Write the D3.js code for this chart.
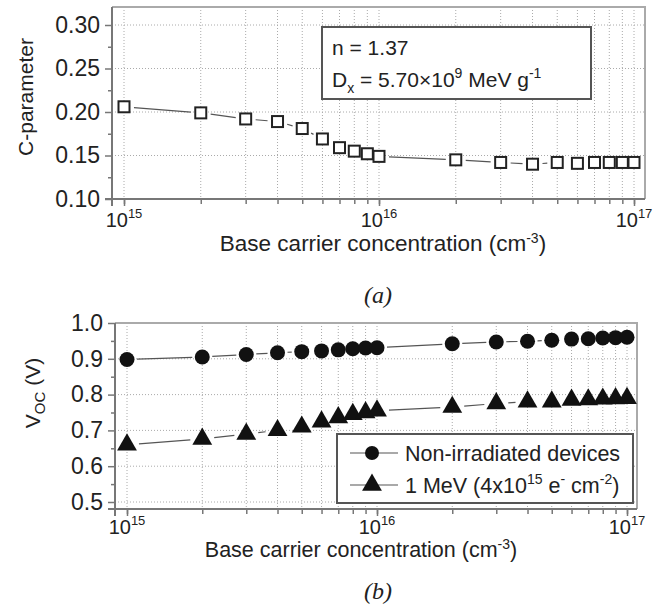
<!DOCTYPE html>
<html>
<head>
<meta charset="utf-8">
<script src="https://cdn.jsdelivr.net/npm/d3@7"></script>
<style>
  body { margin: 0; background: #fff; }
  text { font-family: "Liberation Sans", Arial, sans-serif; fill: #222; }
</style>
</head>
<body>
<svg width="665" height="614"></svg>
<script>
// carrier concentrations (cm^-3)
const conc = [1e15, 2e15, 3e15, 4e15, 5e15, 6e15, 7e15, 8e15, 9e15,
  1e16, 2e16, 3e16, 4e16, 5e16, 6e16, 7e16, 8e16, 9e16, 1e17];
// (a) C-parameter
const cParam = [0.206, 0.199, 0.192, 0.189, 0.181, 0.169, 0.159, 0.155, 0.152,
  0.149, 0.145, 0.142, 0.140, 0.142, 0.141, 0.142, 0.142, 0.142, 0.142];
// (b) Voc
const vocNonIrr = [0.898, 0.905, 0.912, 0.917, 0.920, 0.922, 0.925, 0.928, 0.930,
  0.931, 0.942, 0.947, 0.949, 0.952, 0.955, 0.956, 0.958, 0.959, 0.960];
const voc1MeV = [0.660, 0.676, 0.690, 0.700, 0.710, 0.724, 0.736, 0.745, 0.750,
  0.755, 0.765, 0.775, 0.780, 0.780, 0.785, 0.786, 0.788, 0.789, 0.790];
const cTicks = [0.10, 0.15, 0.20, 0.25, 0.30];
const vTicks = [0.5, 0.6, 0.7, 0.8, 0.9, 1.0];
const decades = [15, 16, 17];

const svg = d3.select('svg');
const minorX = d3.range(15, 17).flatMap(e => d3.range(1, 10).map(m => m * Math.pow(10, e))).concat([1e17]);

function panel(cfg) {
  const g = svg.append('g');
  const x = d3.scaleLog().domain([1e15, 1e17]).range(cfg.xr);
  const y = d3.scaleLinear().domain(cfg.yd).range(cfg.yr);
  const [L, R, T, B] = cfg.frame;

  // grid
  g.append('g').selectAll('line').data(minorX).join('line')
    .attr('x1', d => x(d)).attr('x2', d => x(d)).attr('y1', T).attr('y2', B)
    .attr('stroke', '#aaa').attr('stroke-width', 1).attr('stroke-dasharray', '1,2');
  g.append('g').selectAll('line').data(cfg.yTicks).join('line')
    .attr('x1', L).attr('x2', R).attr('y1', d => y(d)).attr('y2', d => y(d))
    .attr('stroke', '#aaa').attr('stroke-width', 1).attr('stroke-dasharray', '1,2');

  // top / right frame
  g.append('path').attr('d', `M${L},${T}H${R}V${B}`)
    .attr('fill', 'none').attr('stroke', '#aaa').attr('stroke-width', 2);

  // x axis
  const xMinor = g.append('g').attr('transform', `translate(0,${B})`)
    .call(d3.axisBottom(x).tickValues(minorX).tickSize(5).tickFormat(''));
  const xMajor = g.append('g').attr('transform', `translate(0,${B})`)
    .call(d3.axisBottom(x).tickValues(decades.map(e => Math.pow(10, e))).tickSize(7).tickFormat(''));
  [xMinor, xMajor].forEach(a => {
    a.select('.domain').remove();
    a.selectAll('line').attr('stroke', '#777').attr('stroke-width', 1.5);
  });
  g.append('line').attr('x1', L - 7).attr('x2', R).attr('y1', B).attr('y2', B)
    .attr('stroke', '#777').attr('stroke-width', 2);
  const xl = g.append('g').selectAll('text').data(decades).join('text')
    .attr('x', d => x(Math.pow(10, d))).attr('y', B + cfg.xlabDy)
    .attr('text-anchor', 'middle').style('font-size', '20px');
  xl.append('tspan').text('10');
  xl.append('tspan').attr('dy', -9).style('font-size', '13px').text(d => d);

  // y axis
  const yMinorVals = d3.range(cfg.yTicks.length - 1).map(i => (cfg.yTicks[i] + cfg.yTicks[i + 1]) / 2);
  const yMinor = g.append('g').attr('transform', `translate(${L},0)`)
    .call(d3.axisLeft(y).tickValues(yMinorVals).tickSize(4).tickFormat(''));
  const yMajor = g.append('g').attr('transform', `translate(${L},0)`)
    .call(d3.axisLeft(y).tickValues(cfg.yTicks).tickSize(7).tickPadding(5).tickFormat(cfg.fmt));
  [yMinor, yMajor].forEach(a => {
    a.select('.domain').remove();
    a.selectAll('line').attr('stroke', '#777').attr('stroke-width', 1.5);
  });
  yMajor.selectAll('text').style('font-size', '23px')
    .style('font-family', '"Liberation Sans", Arial, sans-serif').attr('fill', '#222');
  g.append('line').attr('x1', L).attr('x2', L).attr('y1', T).attr('y2', B + 7)
    .attr('stroke', '#777').attr('stroke-width', 2);

  // axis titles
  const xt = g.append('text').attr('x', cfg.titleX).attr('y', B + cfg.titleDy)
    .attr('text-anchor', 'middle').style('font-size', cfg.titleSize + 'px');
  xt.append('tspan').text('Base carrier concentration (cm');
  xt.append('tspan').attr('dy', -8).style('font-size', '14px').text('-3');
  xt.append('tspan').attr('dy', 8).text(')');

  // panel label
  g.append('text').attr('x', 378).attr('y', cfg.labelY)
    .attr('text-anchor', 'middle').style('font-family', '"Liberation Serif", "DejaVu Serif", serif')
    .style('font-style', 'italic').style('font-size', '24px').text(cfg.label);

  return { g, x, y };
}

// line broken around markers
function brokenLine(g, x, y, vals, gap) {
  const pts = conc.map((c, i) => [x(c), y(vals[i])]);
  const segs = [];
  for (let i = 0; i < pts.length - 1; i++) {
    const [x0, y0] = pts[i], [x1, y1] = pts[i + 1];
    const len = Math.hypot(x1 - x0, y1 - y0);
    if (len > 2 * gap + 2) {
      const ux = (x1 - x0) / len, uy = (y1 - y0) / len;
      segs.push([x0 + ux * gap, y0 + uy * gap, x1 - ux * gap, y1 - uy * gap]);
    }
  }
  g.append('g').selectAll('line').data(segs).join('line')
    .attr('x1', d => d[0]).attr('y1', d => d[1]).attr('x2', d => d[2]).attr('y2', d => d[3])
    .attr('stroke', '#555').attr('stroke-width', 1.2);
}

// ---- (a)
const a = panel({ xr: [124, 634], yd: [0.10, 0.30], yr: [199, 25], frame: [112, 645, 7, 199],
  yTicks: cTicks, fmt: d3.format('.2f'), label: '(a)', labelY: 303,
  xlabDy: 28, titleDy: 52, titleX: 383, titleSize: 22.5 });
brokenLine(a.g, a.x, a.y, cParam, 10);
a.g.append('g').selectAll('rect').data(conc).join('rect')
  .attr('x', d => a.x(d) - 5.5).attr('y', (d, i) => a.y(cParam[i]) - 5.5)
  .attr('width', 11).attr('height', 11)
  .attr('fill', '#fff').attr('stroke', '#222').attr('stroke-width', 2);
a.g.append('text').attr('transform', 'translate(33,97) rotate(-90)')
  .attr('text-anchor', 'middle').style('font-size', '21px').text('C-parameter');
// annotation box
a.g.append('rect').attr('x', 322).attr('y', 27).attr('width', 269).attr('height', 72)
  .attr('fill', '#fff').attr('stroke', '#555').attr('stroke-width', 2);
a.g.append('text').attr('x', 332).attr('y', 55).style('font-size', '21px').text('n = 1.37');
const dx = a.g.append('text').attr('x', 332).attr('y', 87).style('font-size', '21px');
dx.append('tspan').text('D');
dx.append('tspan').attr('dy', 6).style('font-size', '14px').text('x');
dx.append('tspan').attr('dy', -6).text(' = 5.70×10');
dx.append('tspan').attr('dy', -9).style('font-size', '14px').text('9');
dx.append('tspan').attr('dy', 9).text(' MeV g');
dx.append('tspan').attr('dy', -9).style('font-size', '14px').text('-1');

// ---- (b)
const b = panel({ xr: [127, 627], yd: [0.5, 1.0], yr: [502, 323], frame: [115, 637, 323, 509],
  yTicks: vTicks, fmt: d3.format('.1f'), label: '(b)', labelY: 599,
  xlabDy: 25, titleDy: 48, titleX: 361, titleSize: 21.5 });
const tri = d3.symbol().type(d3.symbolTriangle).size(170);
brokenLine(b.g, b.x, b.y, vocNonIrr, 10);
brokenLine(b.g, b.x, b.y, voc1MeV, 12);
b.g.append('g').selectAll('circle').data(conc).join('circle')
  .attr('cx', d => b.x(d)).attr('cy', (d, i) => b.y(vocNonIrr[i])).attr('r', 7.5)
  .attr('fill', '#111');
b.g.append('g').selectAll('path').data(conc).join('path')
  .attr('transform', (d, i) => `translate(${b.x(d)},${b.y(voc1MeV[i])})`)
  .attr('d', tri).attr('fill', '#111');
const yt = b.g.append('text').attr('transform', 'translate(40,393) rotate(-90)')
  .attr('text-anchor', 'middle').style('font-size', '21px');
yt.append('tspan').text('V');
yt.append('tspan').attr('dy', 5).style('font-size', '15px').text('OC');
yt.append('tspan').attr('dy', -5).text(' (V)');

// legend
const lg = b.g.append('g');
lg.append('rect').attr('x', 337).attr('y', 434).attr('width', 296).attr('height', 69)
  .attr('fill', '#fff').attr('stroke', '#555').attr('stroke-width', 2);
[[453, 'c'], [485, 't']].forEach(([ly, s]) => {
  lg.append('line').attr('x1', 350).attr('x2', 398).attr('y1', ly).attr('y2', ly)
    .attr('stroke', '#555').attr('stroke-width', 1.2);
  if (s === 'c') lg.append('circle').attr('cx', 372).attr('cy', ly).attr('r', 7).attr('fill', '#111');
  else lg.append('path').attr('transform', `translate(372,${ly})`).attr('d', tri).attr('fill', '#111');
});
lg.append('text').attr('x', 405).attr('y', 461).style('font-size', '21.5px').text('Non-irradiated devices');
const l2 = lg.append('text').attr('x', 405).attr('y', 493).style('font-size', '21.5px');
l2.append('tspan').text('1 MeV (4x10');
l2.append('tspan').attr('dy', -9).style('font-size', '14px').text('15');
l2.append('tspan').attr('dy', 9).text(' e');
l2.append('tspan').attr('dy', -9).style('font-size', '14px').text('-');
l2.append('tspan').attr('dy', 9).text(' cm');
l2.append('tspan').attr('dy', -9).style('font-size', '14px').text('-2');
l2.append('tspan').attr('dy', 9).text(')');
</script>
</body>
</html>
